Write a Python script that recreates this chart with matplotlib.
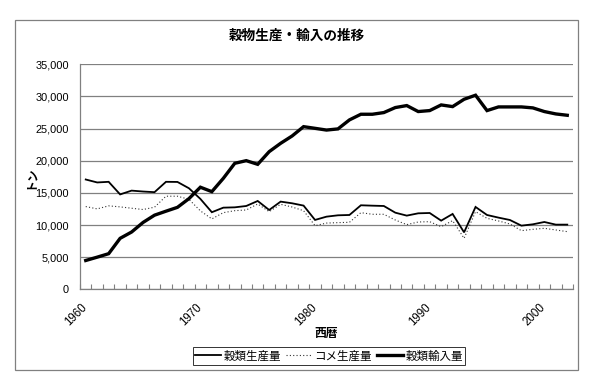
import matplotlib
matplotlib.use("Agg")
import matplotlib.pyplot as plt
from matplotlib.patches import Rectangle
import numpy as np

plt.rcParams['font.family'] = ['Noto Sans CJK JP', 'DejaVu Sans']

years = list(range(1960, 2003))
grain_prod = [17080, 16620, 16720, 14760, 15350, 15210, 15110, 16720, 16700, 15720,
              14060, 11990, 12700, 12750, 12960, 13740, 12340, 13640, 13380, 13020,
              10790, 11300, 11510, 11560, 13070, 13010, 12960, 11920, 11460, 11820,
              11870, 10680, 11720, 8860, 12810, 11560, 11150, 10780, 9900, 10110,
              10470, 10060, 10060]
rice_prod = [12870, 12510, 12980, 12820, 12610, 12410, 12770, 14480, 14480, 14000,
             12200, 10950, 11920, 12230, 12340, 13270, 12080, 13220, 12800, 12230,
             9900, 10300, 10370, 10420, 11920, 11670, 11670, 10780, 10060, 10470,
             10520, 9740, 10680, 7930, 12080, 11040, 10630, 10160, 9120, 9330,
             9490, 9230, 8970]
grain_import = [4480, 5000, 5540, 7930, 8910, 10400, 11530, 12150, 12750, 14100,
                15880, 15190, 17260, 19600, 20010, 19440, 21410, 22710, 23850, 25300,
                25040, 24770, 24950, 26350, 27230, 27230, 27490, 28270, 28580, 27650,
                27800, 28680, 28420, 29560, 30190, 27800, 28370, 28370, 28370, 28220,
                27650, 27280, 27070]
series_labels = ['穀類生産量', 'コメ生産量', '穀類輸入量']
title = '穀物生産・輸入の推移'
xlabel = '西暦'
ylabel = 'トン'
yticks = [0, 5000, 10000, 15000, 20000, 25000, 30000, 35000]
label_years = [1960, 1970, 1980, 1990, 2000]

W, H = 600, 387
fig = plt.figure(figsize=(W / 100, H / 100), dpi=100)
fig.patch.set_facecolor('white')

# outer chart frame
fig.patches.append(Rectangle((15 / W, 1 - 370 / H), (578 - 15) / W, (370 - 20) / H,
                             transform=fig.transFigure, fill=False,
                             edgecolor='#808080', linewidth=0.9))

ax = fig.add_axes([80 / W, 1 - 289.3 / H, (573 - 80) / W, (289.3 - 64.3) / H])
n = len(years)
x = np.arange(n) + 0.5

l1, = ax.plot(x, grain_prod, color='black', linewidth=1.3, solid_joinstyle='miter')
l2, = ax.plot(x, rice_prod, color='#333333', linewidth=0.8, linestyle=(0, (1, 2)))
l3, = ax.plot(x, grain_import, color='black', linewidth=2.4, solid_joinstyle='miter')

ax.set_xlim(0, n)
ax.set_ylim(0, 35000)
ax.set_yticks(yticks)
ax.set_yticklabels([f'{v:,}' for v in yticks], fontfamily='Liberation Sans', fontsize=7.9)
ax.yaxis.grid(True, color='#808080', linewidth=0.9)
ax.set_axisbelow(True)
ax.tick_params(axis='y', length=0, pad=8)

ax.set_xticks(np.arange(0, n + 1))
ax.set_xticklabels([])
ax.tick_params(axis='x', which='major', direction='in', length=3.5, color='#808080', width=0.8)
ax.set_xticks([years.index(y) + 0.1 for y in label_years], minor=True)
ax.set_xticklabels([str(y) for y in label_years], minor=True, rotation=45,
                   ha='right', va='top', rotation_mode='anchor',
                   fontfamily='Liberation Sans', fontsize=8.3)
ax.tick_params(axis='x', which='minor', length=0, pad=9)

for s in ['top', 'right']:
    ax.spines[s].set_visible(False)
for s in ['left', 'bottom']:
    ax.spines[s].set_color('#808080')
    ax.spines[s].set_linewidth(0.9)

fig.text(297 / W, 1 - 36 / H, title, ha='center', va='center', fontsize=9.8, fontweight='bold')
fig.text(326 / W, 1 - 334 / H, xlabel, ha='center', va='center', fontsize=8.5, fontweight='bold')
fig.text(30 / W, 1 - 177 / H, ylabel, ha='center', va='center', rotation=90,
         fontsize=8.5, fontweight='bold')

leg = fig.legend([l1, l2, l3], series_labels, loc='center', bbox_to_anchor=(329 / W, 1 - 356 / H),
                 ncol=3, fontsize=8.3, frameon=True, fancybox=False, handlelength=2.3,
                 handletextpad=0.2, columnspacing=0.4, borderpad=0.2, borderaxespad=0)
leg.get_frame().set_edgecolor('black')
leg.get_frame().set_linewidth(0.7)

fig.savefig('out.png', dpi=100, facecolor='white')
